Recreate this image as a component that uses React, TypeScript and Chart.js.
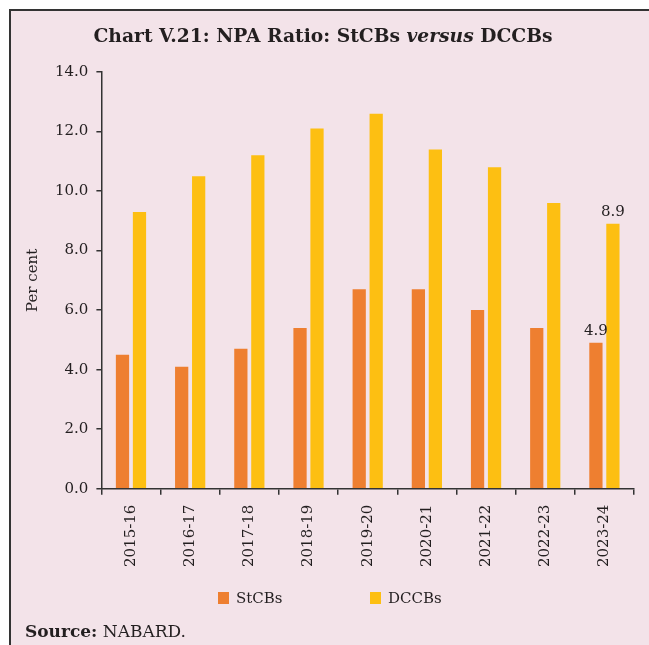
import React, { useEffect, useRef } from "react";
import { Chart, registerables } from "chart.js";

Chart.register(...registerables);

const categories = ["2015-16", "2016-17", "2017-18", "2018-19", "2019-20", "2020-21", "2021-22", "2022-23", "2023-24"];
const stcbs = [4.5, 4.1, 4.7, 5.4, 6.7, 6.7, 6.0, 5.4, 4.9];
const dccbs = [9.3, 10.5, 11.2, 12.1, 12.6, 11.4, 10.8, 9.6, 8.9];
const yTicks = [0, 2, 4, 6, 8, 10, 12, 14];
const seriesNames = ["StCBs", "DCCBs"];
const seriesColors = ["#EE7F30", "#FDBF12"];
const labelledIndex = 8;

const FONT = "'DejaVu Serif', serif";
const TEXT = "#231f20";
const BG = "#F3E3E9";

const lastLabels = {
  id: "lastLabels",
  afterDatasetsDraw(chart: any) {
    const ctx = chart.ctx;
    ctx.save();
    ctx.font = `15px ${FONT}`;
    ctx.fillStyle = TEXT;
    ctx.textAlign = "center";
    ctx.textBaseline = "bottom";
    chart.data.datasets.forEach((ds: any, i: number) => {
      const el = chart.getDatasetMeta(i).data[labelledIndex];
      if (!el) return;
      ctx.fillText(Number(ds.data[labelledIndex]).toFixed(1), el.x, el.y - 4);
    });
    ctx.restore();
  },
};

export default function App() {
  const ref = useRef<HTMLCanvasElement | null>(null);
  useEffect(() => {
    if (!ref.current) return;
    const chart = new Chart(ref.current, {
      type: "bar",
      data: {
        labels: categories,
        datasets: [
          { label: seriesNames[0], data: stcbs, backgroundColor: seriesColors[0] },
          { label: seriesNames[1], data: dccbs, backgroundColor: seriesColors[1] },
        ],
      },
      plugins: [lastLabels],
      options: {
        animation: false,
        responsive: false,
        maintainAspectRatio: false,
        datasets: { bar: { categoryPercentage: 0.574, barPercentage: 0.78 } },
        layout: { padding: { left: 11, right: 15, top: 72, bottom: 68 } },
        plugins: {
          legend: { display: false },
          title: { display: false },
          tooltip: { enabled: false },
        },
        scales: {
          x: {
            grid: { offset: true, drawOnChartArea: false, drawTicks: true, tickLength: 6, color: "#333", lineWidth: 1.5 },
            border: { display: true, color: "#333", width: 1.5 },
            ticks: {
              color: TEXT,
              font: { family: FONT, size: 15 },
              minRotation: 90,
              maxRotation: 90,
              padding: 10,
              autoSkip: false,
            },
          },
          y: {
            min: 0,
            max: 14,
            afterBuildTicks: (axis: any) => {
              axis.ticks = yTicks.map((v) => ({ value: v }));
            },
            grid: { drawOnChartArea: false, drawTicks: true, tickLength: 5, color: "#333", lineWidth: 1.5 },
            border: { display: true, color: "#333", width: 1.5 },
            title: {
              display: true,
              text: "Per cent",
              color: TEXT,
              font: { family: FONT, size: 15 },
              padding: { top: 13, bottom: 5 },
            },
            ticks: {
              color: TEXT,
              font: { family: FONT, size: 15 },
              padding: 8,
              callback: (v: any) => Number(v).toFixed(1),
            },
          },
        },
      },
    });
    return () => chart.destroy();
  }, []);

  return (
    <div style={{ position: "fixed", left: 0, top: 0, width: 649, height: 645, background: "#fff", overflow: "hidden" }}>
      <div
        style={{
          position: "absolute",
          left: 9,
          top: 9,
          width: 660,
          height: 660,
          background: BG,
          borderTop: "2px solid #333",
          borderLeft: "2px solid #333",
        }}
      />
      <canvas ref={ref} width={649} height={645} style={{ position: "absolute", left: 0, top: 0, width: 649, height: 645 }} />
      <div
        style={{
          position: "absolute",
          left: 0,
          width: 646,
          top: 22,
          textAlign: "center",
          fontFamily: FONT,
          fontWeight: "bold",
          fontSize: 18.7,
          lineHeight: "26px",
          color: TEXT,
          whiteSpace: "nowrap",
        }}
      >
        Chart V.21: NPA Ratio: StCBs <i>versus</i> DCCBs
      </div>
      {seriesNames.map((name, i) => (
        <div
          key={name}
          style={{
            position: "absolute",
            left: i === 0 ? 218 : 370,
            top: 588,
            display: "flex",
            alignItems: "center",
            fontFamily: FONT,
            fontSize: 15,
            lineHeight: "20px",
            color: TEXT,
            whiteSpace: "nowrap",
          }}
        >
          <span style={{ display: "inline-block", width: 11, height: 12, background: seriesColors[i], marginRight: 7 }} />
          {name}
        </div>
      ))}
      <div
        style={{
          position: "absolute",
          left: 25,
          top: 619,
          fontFamily: FONT,
          fontSize: 17,
          lineHeight: "24px",
          color: TEXT,
          whiteSpace: "nowrap",
        }}
      >
        <b>Source:</b> NABARD.
      </div>
    </div>
  );
}
